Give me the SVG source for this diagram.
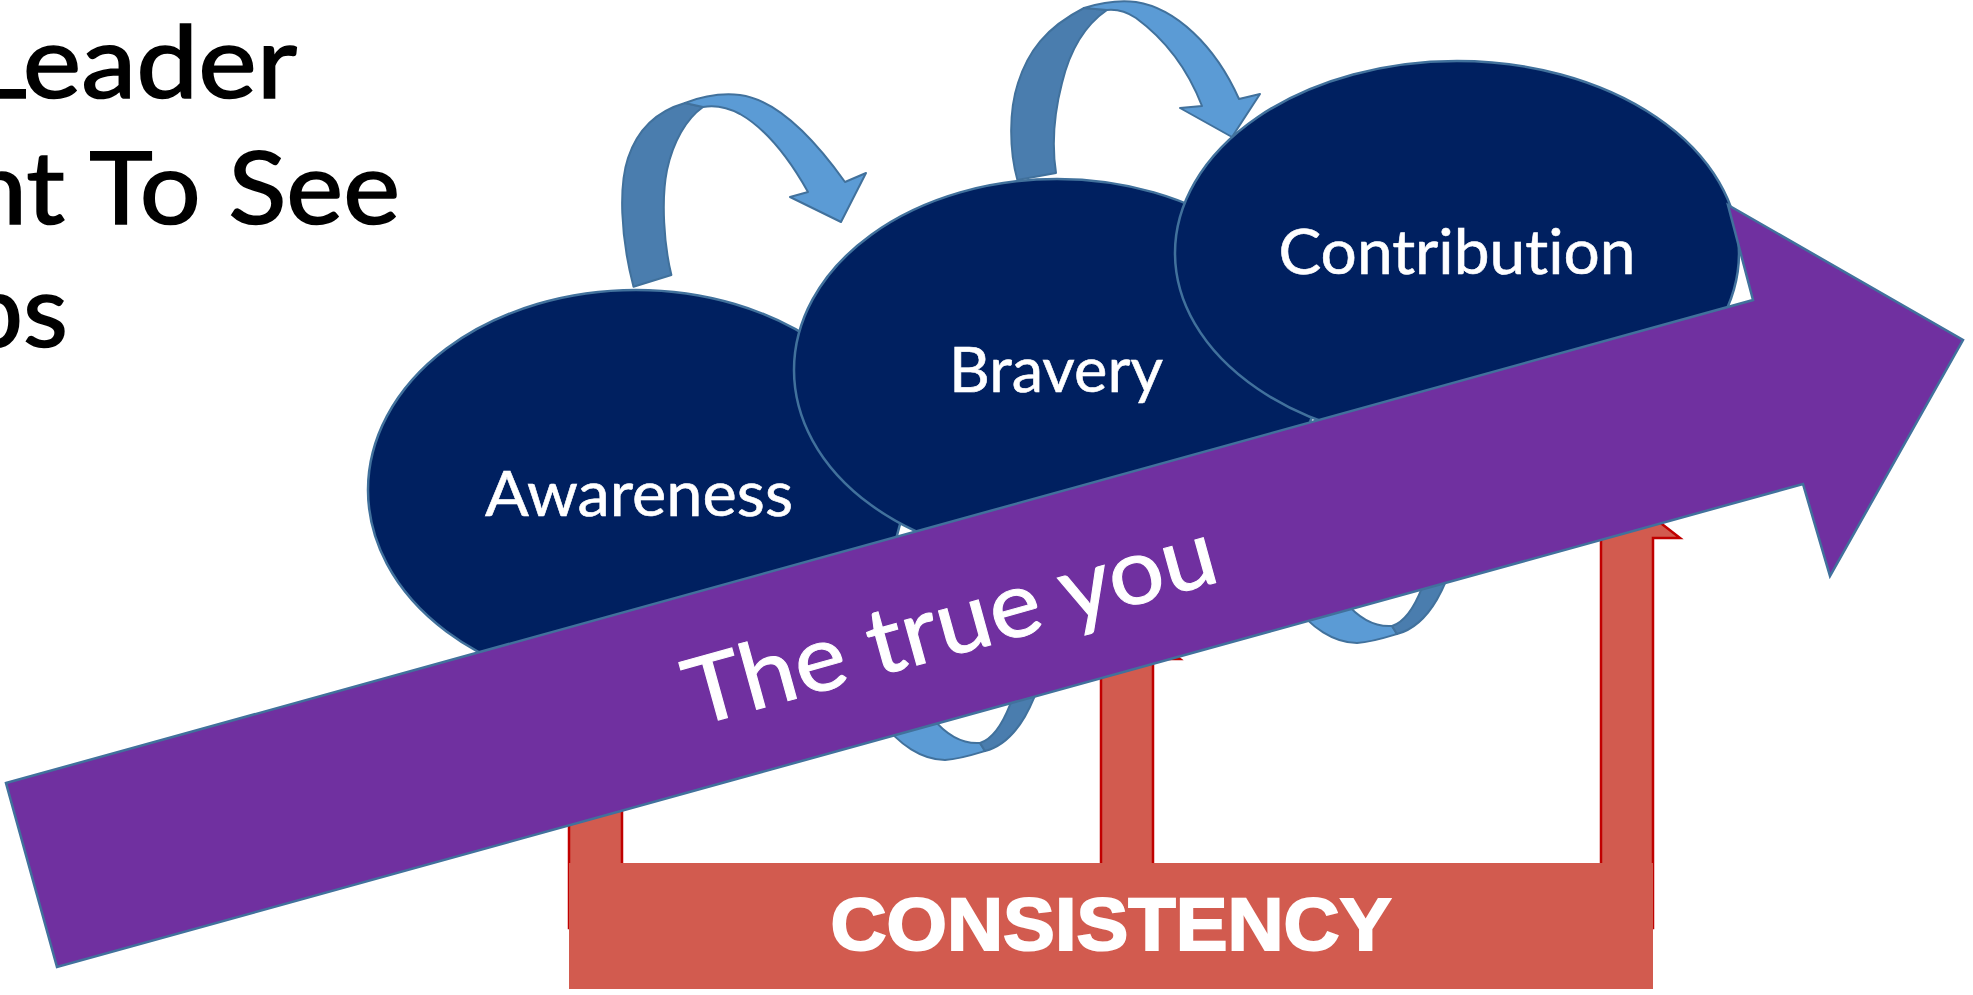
<svg xmlns="http://www.w3.org/2000/svg" width="1973" height="995" viewBox="0 0 1973 995">
  <style>
    text { font-variant-ligatures: none; font-feature-settings: "liga" 0, "clig" 0; }
    .title { font-family: Lato, "Open Sans", "Liberation Sans", sans-serif; font-size: 101px; fill: #000; stroke: #000; stroke-width: 1.6; }
    .ell { fill: #002060; stroke: #41719C; stroke-width: 2.5; }
    .lbl { font-family: Lato, "Open Sans", "Liberation Sans", sans-serif; font-size: 62px; fill: #fff; stroke: #fff; stroke-width: 0.6; text-anchor: middle; }
    .light { fill: #5B9BD5; stroke: #41719C; stroke-width: 2; stroke-linejoin: round; }
    .dark { fill: #4A7DAE; stroke: #41719C; stroke-width: 2; stroke-linejoin: round; }
    .red { fill: #D25B4F; stroke: #C00000; stroke-width: 2.5; }
    .redfill { fill: #D25B4F; }
    .banner { fill: #7030A0; stroke: #41719C; stroke-width: 2.5; stroke-linejoin: miter; }
    .bannertxt { font-family: Lato, "Open Sans", "Liberation Sans", sans-serif; font-size: 92px; fill: #fff; stroke: #fff; stroke-width: 1; }
    .cons { font-family: "Liberation Sans", Arial, sans-serif; font-weight: bold; font-size: 74px; fill: #fff; stroke: #fff; stroke-width: 2; text-anchor: middle; }
  </style>
  <rect width="1973" height="995" fill="#fff"/>

  <g id="title">
    <text class="title" x="-30" y="98" textLength="327" lengthAdjust="spacingAndGlyphs">Leader</text>
    <text class="title" x="-33" y="224" textLength="433" lengthAdjust="spacingAndGlyphs">nt To See</text>
    <text class="title" x="-35" y="347" textLength="103" lengthAdjust="spacingAndGlyphs">ps</text>
  </g>

  <g id="consistency">
    <polygon class="red" points="569,928 569,780 542,780 595.5,739 649,780 622,780 622,928"/>
    <polygon class="red" points="1101,928 1101,659 1074,659 1127,618 1180,659 1153,659 1153,928"/>
    <polygon class="red" points="1601,928 1601,538 1574,538 1627,497 1680,538 1653,538 1653,928"/>
    <rect class="redfill" x="569" y="863" width="1084" height="126"/>
    <text class="cons" x="1111" y="950" textLength="561" lengthAdjust="spacingAndGlyphs">CONSISTENCY</text>
  </g>

  <g id="connectors">
    <g id="lower-arrow-1">
      <path class="light" d="M850,620 C850,700 900,760 945,760 C960,759 972,755 985,751 L980,743 C950,745 912,715 892,620 Z"/>
      <path class="dark" d="M980,743 L985,751 C1012,744 1042,710 1052,620 L1027,620 C1022,690 1002,736 980,743 Z"/>
    </g>
    <g id="lower-arrow-2" transform="translate(412,-117)">
      <path class="light" d="M850,620 C850,700 900,760 945,760 C960,759 972,755 985,751 L980,743 C950,745 912,715 892,620 Z"/>
      <path class="dark" d="M980,743 L985,751 C1012,744 1042,710 1052,620 L1027,620 C1022,690 1002,736 980,743 Z"/>
    </g>
    <g id="arrow-awareness-bravery">
      <path class="dark" d="M633.5,286.7 C620,235 619,185 628,158 C638,128 657,111 685,103 L703,107 C686,119 673,142 667,170 C661,200 664,245 671.4,275 Z"/>
      <path class="light" d="M685,103 C703,96 722,93 740,95 C778,100 815,140 845,182 L866,173 L841,222 L790,197 L808,192 C790,160 768,130 740,114 C727,107 714,105 703,107 Z"/>
    </g>
    <g id="arrow-bravery-contribution">
      <path class="dark" d="M1017.4,180 C1009,150 1009,110 1018,83 C1028,52 1045,28 1084,8 L1107,10 C1085,25 1070,50 1062,83 C1055,110 1051,140 1056,173 Z"/>
      <path class="light" d="M1084,8 C1100,3 1120,0 1136,2 C1175,8 1215,45 1239,99 L1260,94 L1232,137 L1180,108 L1202,106 C1190,75 1170,43 1136,18 C1127,12 1117,9 1107,10 Z"/>
    </g>
  </g>

  <g id="node-awareness">
    <ellipse class="ell" cx="636" cy="490" rx="268" ry="200"/>
    <text class="lbl" x="639" y="516" textLength="308" lengthAdjust="spacingAndGlyphs">Awareness</text>
  </g>
  <g id="node-bravery">
    <ellipse class="ell" cx="1057" cy="370" rx="263" ry="191"/>
    <text class="lbl" x="1056" y="392" textLength="214" lengthAdjust="spacingAndGlyphs">Bravery</text>
  </g>
  <g id="node-contribution">
    <ellipse class="ell" cx="1457" cy="253" rx="282" ry="192"/>
    <text class="lbl" x="1457" y="274" textLength="357" lengthAdjust="spacingAndGlyphs">Contribution</text>
  </g>

  <g id="node-true-you">
    <polygon class="banner" points="6,783 1753,300 1728,205 1963,340 1830,576 1803,484 57,967"/>
    <text class="bannertxt" transform="translate(695,726.5) rotate(-15.45)" x="0" y="0" textLength="547" lengthAdjust="spacingAndGlyphs">The true you</text>
  </g>
</svg>
